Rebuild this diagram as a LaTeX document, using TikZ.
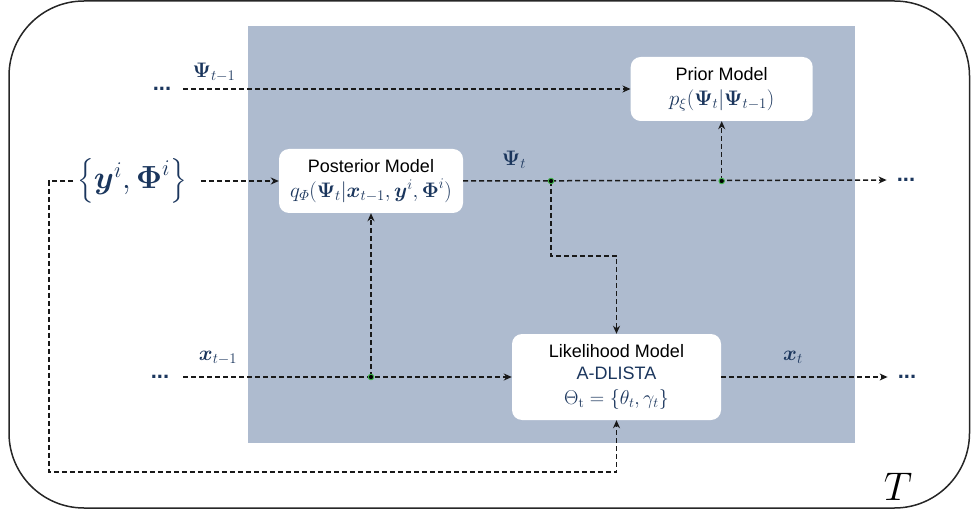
\RequirePackage{fix-cm}
\documentclass[tikz,border=0pt]{standalone}
\usepackage{amsmath,bm}
\usepackage{fontspec}
\newfontfamily\boxfont{Liberation Sans}
\usetikzlibrary{arrows.meta}
\definecolor{navy}{RGB}{27,54,93}
\definecolor{panel}{RGB}{174,187,207}
\definecolor{ln}{RGB}{25,25,25}
\definecolor{jgreen}{RGB}{60,180,70}
\begin{document}
\begin{tikzpicture}[x=1pt,y=-1pt,
  box/.style={fill=white, rounded corners=10pt, inner sep=0pt, align=center,
    font=\boxfont\fontsize{18}{22}\selectfont},
  flow/.style={draw=ln, line width=1.5pt, dash pattern=on 5pt off 3pt},
  tip/.style={-{Stealth[length=8pt,width=7pt,inset=2.5pt]}},
  lbl/.style={text=navy, inner sep=0pt, font=\fontsize{21}{24}\selectfont},
  dots/.style={text=navy, inner sep=0pt, font=\boxfont\bfseries\fontsize{22}{24}\selectfont},
  jdot/.style={circle, fill=black, draw=jgreen, line width=0.9pt, minimum size=5.5pt, inner sep=0pt}
]
\useasboundingbox (0,0) rectangle (971,518);
\draw[line width=1.5pt, draw=black!85, rounded corners=75pt] (9,1) rectangle (969.5,508);
\fill[panel] (248,26) rectangle (855,443);

% boxes
\node[box, minimum width=182pt, minimum height=64pt] (prior) at (721.7,89)
  {Prior Model\\[3pt] \color{navy}\fontsize{21}{24}\selectfont$p_\xi(\bm\Psi_t|\bm\Psi_{t-1})$};
\node[box, minimum width=184pt, minimum height=64pt] (post) at (371,181)
  {Posterior Model\\[3pt] \color{navy}\fontsize{21}{24}\selectfont$q_{\varPhi}(\bm\Psi_t|\bm x_{t-1},\bm y^i,\bm\Phi^i)$};
\node[box, minimum width=209pt, minimum height=86pt] (lik) at (616.5,377)
  {Likelihood Model\\ \color{navy}A-DLISTA\\[3pt] \color{navy}\fontsize{20}{22}\selectfont$\Theta_{\mathrm t}=\{\theta_t,\gamma_t\}$};

% labels and dots
\node[dots] (d1) at (162,89) {...};
\node[dots] (d2) at (160,377) {...};
\node[dots] (d3) at (906,180) {...};
\node[dots] (d4) at (907,377) {...};
\node[lbl] (psiprev) at (214,72) {$\bm\Psi_{t-1}$};
\node[lbl] (psit) at (514,160) {$\bm\Psi_t$};
\node[lbl] (xprev) at (218,358) {$\bm x_{t-1}$};
\node[lbl] (xt) at (793,357) {$\bm x_t$};
\node[lbl, font=\fontsize{32}{34}\selectfont] (ys) at (132,181) {$\bigl\{\bm y^i,\bm\Phi^i\bigr\}$};
\node[font=\fontsize{40}{42}\selectfont, inner sep=0pt] (T) at (898,487) {$T$};

% junction coordinates
\coordinate (j1) at (551,181);
\coordinate (j2) at (prior.south |- j1);
\coordinate (j3) at (post.south |- lik.west);
\coordinate (bend) at (551,256);
\coordinate (fbA) at (49,181);
\coordinate (fbB) at (49,472);

% connectors
\draw[flow,tip] ([xshift=12pt]d1.east) -- (prior.west);
\draw[flow,tip] ([xshift=14pt]ys.east) -- (post.west);
\draw[flow,tip] (post.east) -- ([xshift=-10pt]d3.west);
\draw[flow,tip] (j2) -- (prior.south);
\draw[flow,tip] (j1) -- (bend) -| (lik.north);
\draw[flow,tip] ([xshift=14pt]d2.east) -- (lik.west);
\draw[flow,tip] (j3) -- (post.south);
\draw[flow,tip] (lik.east) -- ([xshift=-10pt]d4.west);
\draw[flow,tip] ([xshift=-4pt]ys.west) -- (fbA) -- (fbB) -| (lik.south);

% junction dots
\node[jdot] (j1dot) at (j1) {};
\node[jdot] (j2dot) at (j2) {};
\node[jdot] (j3dot) at (j3) {};
\end{tikzpicture}
\end{document}
